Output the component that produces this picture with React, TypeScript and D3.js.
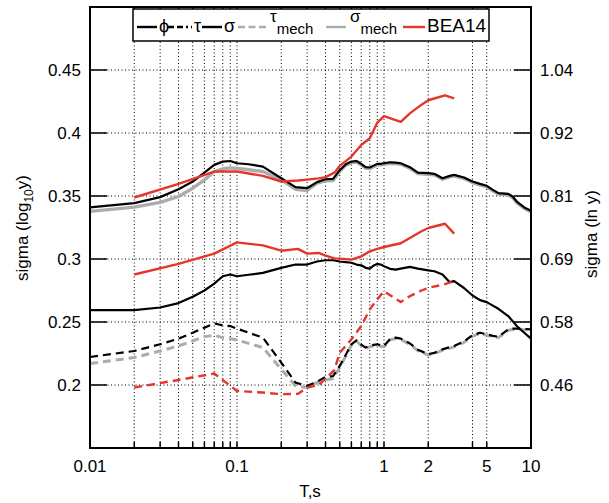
import React, { useEffect, useRef } from "react";
import * as d3 from "d3";

// periods (s) for the black / grey curves
const periods = [
  0.01, 0.02, 0.03, 0.04, 0.05, 0.06, 0.07, 0.08, 0.09, 0.1,
  0.12, 0.15, 0.2, 0.25, 0.3, 0.35, 0.4, 0.45, 0.5, 0.55,
  0.6, 0.65, 0.7, 0.75, 0.8, 0.85, 0.9, 0.95, 1.0, 1.1,
  1.2, 1.3, 1.5, 1.7, 2.0, 2.2, 2.5, 2.8, 3.0, 3.5,
  4, 4.5, 5, 5.5, 6, 7, 7.5, 8, 9, 10,
];
const phi = [
  0.2594, 0.2594, 0.2615, 0.265, 0.27, 0.275, 0.2805, 0.2863, 0.2877, 0.2863,
  0.2875, 0.289, 0.293, 0.2956, 0.2956, 0.298, 0.299, 0.299, 0.298, 0.2975,
  0.297, 0.2956, 0.295, 0.293, 0.2924, 0.2948, 0.2961, 0.2956, 0.2942, 0.2922,
  0.2916, 0.2924, 0.2937, 0.2924, 0.291, 0.2903, 0.2877, 0.2816, 0.2824, 0.277,
  0.271, 0.2674, 0.2658, 0.263, 0.2605, 0.2547, 0.2507, 0.2468, 0.2415, 0.2368,
];
const tau = [
  0.2222, 0.227, 0.2323, 0.2368, 0.2415, 0.2455, 0.2489, 0.2473, 0.2468, 0.2447,
  0.2415, 0.2376, 0.2178, 0.2019, 0.1993, 0.2025, 0.2065, 0.207, 0.2151, 0.224,
  0.2323, 0.2354, 0.232, 0.2297, 0.231, 0.2318, 0.2323, 0.2315, 0.231, 0.2365,
  0.2376, 0.2368, 0.233, 0.228, 0.2244, 0.2255, 0.2283, 0.23, 0.231, 0.2345,
  0.2395, 0.2415, 0.2402, 0.239, 0.2383, 0.2441, 0.2447, 0.2447, 0.2445, 0.2441,
];
const sigma = [
  0.3409, 0.3444, 0.3491, 0.3554, 0.3615, 0.3686, 0.3747, 0.3773, 0.3778, 0.376,
  0.3752, 0.3733, 0.3641, 0.357, 0.3562, 0.361, 0.3633, 0.3636, 0.3705, 0.3752,
  0.3773, 0.3778, 0.3755, 0.3729, 0.3726, 0.3741, 0.3755, 0.3755, 0.376, 0.3768,
  0.3765, 0.376, 0.3729, 0.3686, 0.3681, 0.3676, 0.3641, 0.366, 0.3668, 0.3647,
  0.3615, 0.3596, 0.3581, 0.3549, 0.3523, 0.3517, 0.3496, 0.3456, 0.3409, 0.3383,
];
const tauMech = [
  0.217, 0.2218, 0.227, 0.231, 0.2349, 0.2384, 0.2394, 0.2376, 0.2368, 0.2357,
  0.233, 0.2297, 0.2125, 0.1993, 0.198, 0.2019, 0.204, 0.2052, 0.2138, 0.223,
  0.2315, 0.2348, 0.2313, 0.229, 0.2303, 0.2311, 0.2316, 0.2308, 0.2303, 0.2358,
  0.2369, 0.2361, 0.2323, 0.2273, 0.2237, 0.2248, 0.2276, 0.2293, 0.2303, 0.2338,
  0.2388, 0.2408, 0.2395, 0.2383, 0.2376, 0.2434, 0.244, 0.244, 0.2438, 0.2434,
];
const sigmaMech = [
  0.3378, 0.3412, 0.3449, 0.3496, 0.3562, 0.3628, 0.3694, 0.3715, 0.3723, 0.3718,
  0.3708, 0.3694, 0.3628, 0.3554, 0.3544, 0.3602, 0.362, 0.3623, 0.3695, 0.3745,
  0.3765, 0.377, 0.3747, 0.3721, 0.3718, 0.3733, 0.3747, 0.3747, 0.3752, 0.376,
  0.3757, 0.3752, 0.3721, 0.3678, 0.3673, 0.3668, 0.3633, 0.3652, 0.366, 0.3639,
  0.3607, 0.3588, 0.3573, 0.3541, 0.3515, 0.3509, 0.3488, 0.3448, 0.3401, 0.3375,
];

// BEA14 curves
const beaPeriods = [
  0.02, 0.04, 0.07, 0.1, 0.15, 0.2, 0.26, 0.3, 0.36, 0.4, 0.46, 0.5,
  0.6, 0.7, 0.8, 0.9, 1.0, 1.3, 1.5, 1.8, 2.0, 2.6, 3.0,
];
const beaSigma = [
  0.3488, 0.3596, 0.3694, 0.3694, 0.366, 0.3615, 0.3623, 0.363, 0.364, 0.365, 0.3685, 0.3739,
  0.3813, 0.3905, 0.3958, 0.4082, 0.4134, 0.4089, 0.4156, 0.4225, 0.426, 0.4298, 0.4274,
];
const beaPhi = [
  0.2877, 0.2961, 0.3043, 0.3132, 0.3108, 0.3066, 0.308, 0.3043, 0.3048, 0.3027, 0.3005, 0.3003,
  0.2995, 0.3021, 0.3061, 0.308, 0.3095, 0.3125, 0.3167, 0.322, 0.3246, 0.328, 0.3201,
];
const beaTau = [
  0.198, 0.204, 0.2091, 0.1953, 0.194, 0.1927, 0.193, 0.198, 0.2, 0.205, 0.212, 0.2257,
  0.2362, 0.2468, 0.26, 0.268, 0.2744, 0.2658, 0.2705, 0.275, 0.2771, 0.28, 0.2824,
];

const xGridValues = [
  0.02, 0.03, 0.04, 0.05, 0.06, 0.07, 0.08, 0.09, 0.1,
  0.2, 0.3, 0.4, 0.5, 0.6, 0.7, 0.8, 0.9, 1, 2, 4, 5,
];
const xLabelValues = [0.01, 0.1, 1, 2, 5, 10];
const yTicks = [0.2, 0.25, 0.3, 0.35, 0.4, 0.45];
const yRightLabels = ["0.46", "0.58", "0.69", "0.81", "0.92", "1.04"];

const RED = "#e4362a";
const GREY = "#acacac";
const FONT = "'Liberation Sans', Arial, sans-serif";

const App = () => {
  const ref = useRef<SVGSVGElement>(null);

  useEffect(() => {
    const svg = d3.select(ref.current);
    svg.selectAll("*").remove();

    const left = 90, right = 531, top = 7, bottom = 448;
    const x = d3.scaleLog().domain([0.01, 10]).range([left, right]);
    const y = d3.scaleLinear().domain([0.15, 0.5]).range([bottom, top]);

    // grid
    const grid = svg.append("g").attr("stroke", "#000").attr("stroke-width", 1);
    grid
      .selectAll(".vg")
      .data(xGridValues)
      .enter()
      .append("line")
      .attr("x1", (d) => x(d))
      .attr("x2", (d) => x(d))
      .attr("y1", top)
      .attr("y2", bottom)
      .attr("stroke-dasharray", "1,2.5");
    grid
      .selectAll(".hg")
      .data(yTicks)
      .enter()
      .append("line")
      .attr("x1", left)
      .attr("x2", right)
      .attr("y1", (d) => y(d))
      .attr("y2", (d) => y(d))
      .attr("stroke-dasharray", "1,2.5");

    // curves
    const series = [
      { t: periods, v: sigmaMech, color: GREY, dash: null, w: 3.4 },
      { t: periods, v: tauMech, color: GREY, dash: "8,5", w: 3 },
      { t: periods, v: phi, color: "#000", dash: null, w: 2.2 },
      { t: periods, v: tau, color: "#000", dash: "8,5", w: 2.2 },
      { t: periods, v: sigma, color: "#000", dash: null, w: 2.2 },
      { t: beaPeriods, v: beaSigma, color: RED, dash: null, w: 2.4 },
      { t: beaPeriods, v: beaPhi, color: RED, dash: null, w: 2.4 },
      { t: beaPeriods, v: beaTau, color: RED, dash: "8,5", w: 2.4 },
    ];
    const line = d3
      .line<[number, number]>()
      .x((d) => x(d[0]))
      .y((d) => y(d[1]));
    series.forEach((s) => {
      svg
        .append("path")
        .attr("d", line(s.t.map((t, i) => [t, s.v[i]] as [number, number])))
        .attr("fill", "none")
        .attr("stroke", s.color)
        .attr("stroke-width", s.w)
        .attr("stroke-linejoin", "round")
        .attr("stroke-dasharray", s.dash);
    });

    // ticks
    const ticks = svg.append("g").attr("stroke", "#000").attr("stroke-width", 1.5);
    xGridValues.forEach((d) => {
      ticks.append("line").attr("x1", x(d)).attr("x2", x(d)).attr("y1", bottom).attr("y2", bottom - 6);
      ticks.append("line").attr("x1", x(d)).attr("x2", x(d)).attr("y1", top).attr("y2", top + 6);
    });
    yTicks.forEach((d) => {
      ticks.append("line").attr("x1", left).attr("x2", left + 17).attr("y1", y(d)).attr("y2", y(d));
      ticks.append("line").attr("x1", right - 17).attr("x2", right).attr("y1", y(d)).attr("y2", y(d));
    });

    // frame
    svg
      .append("rect")
      .attr("x", left)
      .attr("y", top)
      .attr("width", right - left)
      .attr("height", bottom - top)
      .attr("fill", "none")
      .attr("stroke", "#000")
      .attr("stroke-width", 2);

    // tick labels
    svg
      .append("g")
      .selectAll("text")
      .data(yTicks)
      .enter()
      .append("text")
      .attr("x", 81)
      .attr("y", (d) => y(d) + 6)
      .attr("text-anchor", "end")
      .attr("font-size", 17)
      .text((d) => String(d));
    svg
      .append("g")
      .selectAll("text")
      .data(yTicks)
      .enter()
      .append("text")
      .attr("x", 540)
      .attr("y", (d) => y(d) + 6)
      .attr("font-size", 17)
      .text((d, i) => yRightLabels[i]);
    svg
      .append("g")
      .selectAll("text")
      .data(xLabelValues)
      .enter()
      .append("text")
      .attr("x", (d) => x(d))
      .attr("y", 472)
      .attr("text-anchor", "middle")
      .attr("font-size", 17)
      .text((d) => String(d));

    // axis titles
    svg
      .append("text")
      .attr("x", 310)
      .attr("y", 497)
      .attr("text-anchor", "middle")
      .attr("font-size", 17)
      .text("T,s");
    const yl = svg
      .append("text")
      .attr("transform", "translate(28,228) rotate(-90)")
      .attr("text-anchor", "middle")
      .attr("font-size", 17);
    yl.append("tspan").text("sigma (log");
    yl.append("tspan").attr("font-size", 12).attr("dy", 5).text("10");
    yl.append("tspan").attr("dy", -5).text("y)");
    svg
      .append("text")
      .attr("transform", "translate(597,234) rotate(-90)")
      .attr("text-anchor", "middle")
      .attr("font-size", 17)
      .text("sigma (ln y)");

    // legend
    const lg = svg.append("g");
    lg.append("rect")
      .attr("x", 133)
      .attr("y", 9)
      .attr("width", 356)
      .attr("height", 32)
      .attr("fill", "#fff")
      .attr("stroke", "#000")
      .attr("stroke-width", 1.5);
    const items = [
      { x0: 137, x1: 157, color: "#000", dash: null, label: "ϕ", sub: "" },
      { x0: 168, x1: 192, color: "#000", dash: "6,3,6,3,2,3", label: "τ", sub: "" },
      { x0: 202, x1: 222, color: "#000", dash: null, label: "σ", sub: "" },
      { x0: 238, x1: 266, color: GREY, dash: "7,3.5", label: "τ", sub: "mech" },
      { x0: 326, x1: 346, color: GREY, dash: null, label: "σ", sub: "mech" },
      { x0: 403, x1: 425, color: RED, dash: null, label: "BEA14", sub: "" },
    ];
    items.forEach((it) => {
      lg.append("line")
        .attr("x1", it.x0)
        .attr("x2", it.x1)
        .attr("y1", 27)
        .attr("y2", 27)
        .attr("stroke", it.color)
        .attr("stroke-width", 2.4)
        .attr("stroke-dasharray", it.dash);
      if (it.sub) {
        const t = lg.append("text").attr("x", it.x1 + 4).attr("y", 22).attr("font-size", 17);
        t.append("tspan").text(it.label);
        t.append("tspan").attr("font-size", 15).attr("dy", 12).text(it.sub);
      } else {
        lg.append("text")
          .attr("x", it.x1 + 2)
          .attr("y", 32)
          .attr("font-size", it.label === "BEA14" ? 19 : 18)
          .text(it.label);
      }
    });
  }, []);

  return (
    <svg
      ref={ref}
      width={609}
      height={503}
      style={{ position: "absolute", left: 0, top: 0, background: "#fff", fontFamily: FONT }}
    />
  );
};

export default App;
